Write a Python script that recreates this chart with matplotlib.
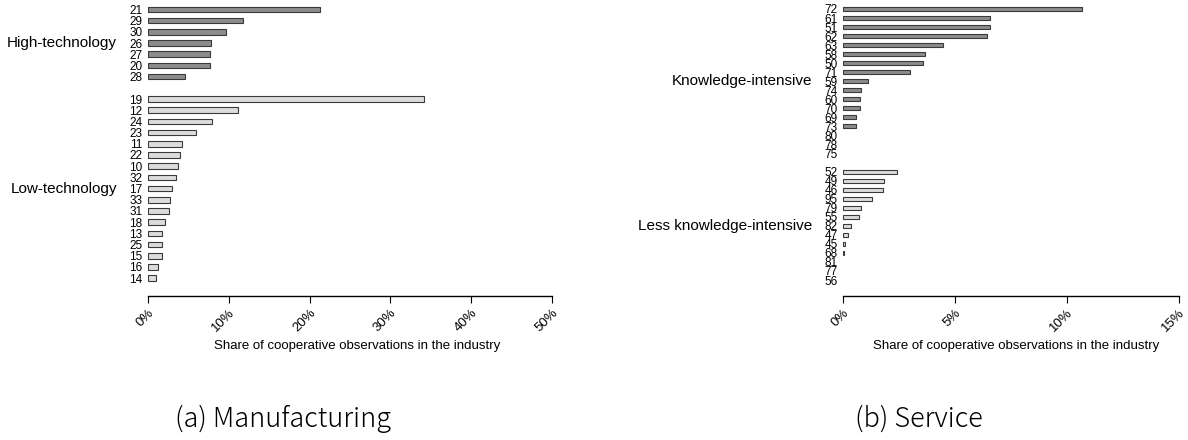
import numpy as np
import matplotlib
matplotlib.use("Agg")
import matplotlib.pyplot as plt
import matplotlib.transforms as mtransforms
from matplotlib import font_manager

plt.rcParams['font.family'] = ['Liberation Sans', 'DejaVu Sans']

# Manufacturing: share of cooperative observations (%)
man_high_codes = ['21', '29', '30', '26', '27', '20', '28']
man_high_vals = [21.3, 11.8, 9.7, 7.85, 7.7, 7.7, 4.6]
man_low_codes = ['19', '12', '24', '23', '11', '22', '10', '32', '17',
                 '33', '31', '18', '13', '25', '15', '16', '14']
man_low_vals = [34.1, 11.1, 7.9, 6.0, 4.15, 3.9, 3.75, 3.5, 2.95,
                2.75, 2.55, 2.1, 1.7, 1.7, 1.7, 1.25, 0.95]

# Service
ser_ki_codes = ['72', '61', '51', '62', '63', '58', '50', '71', '59',
                '74', '60', '70', '69', '73', '80', '78', '75']
ser_ki_vals = [10.65, 6.55, 6.55, 6.42, 4.46, 3.65, 3.55, 2.97, 1.12,
               0.79, 0.77, 0.74, 0.58, 0.58, 0.0, 0.0, 0.0]
ser_lki_codes = ['52', '49', '46', '95', '79', '55', '82', '47', '45',
                 '68', '81', '77', '56']
ser_lki_vals = [2.39, 1.81, 1.77, 1.28, 0.79, 0.71, 0.35, 0.24, 0.11,
                0.03, 0.0, 0.0, 0.0]

man_ticks = [0, 10, 20, 30, 40, 50]
ser_ticks = [0, 5, 10, 15]

dark = '#8c8c8c'
light = '#dcdcdc'
edge = '#3a3a3a'

names = {f.name for f in font_manager.fontManager.ttflist}
narrow = 'Liberation Sans Narrow' if 'Liberation Sans Narrow' in names else 'Liberation Sans'

W, H = 1188, 440
fig = plt.figure(figsize=(W / 100, H / 100), dpi=100)


def panel(x0, x1, codes1, vals1, codes2, vals2, group1, group2, ticks,
          ylim, label_x, tick_font, tick_size, bar_h):
    ax = fig.add_axes([x0 / W, (H - 296) / H, (x1 - x0) / W, 291 / H])
    rows1 = np.arange(len(codes1))
    rows2 = np.arange(len(codes2)) + len(codes1) + 1
    lw1 = [0.8 if v > 0 else 0 for v in vals1]
    lw2 = [0.8 if v > 0 else 0 for v in vals2]
    ax.barh(rows1, vals1, height=bar_h, color=dark, edgecolor=edge, linewidth=lw1)
    ax.barh(rows2, vals2, height=bar_h, color=light, edgecolor=edge, linewidth=lw2)
    ax.set_ylim(*ylim)
    ax.set_xlim(ticks[0], ticks[-1])
    ax.set_yticks(np.concatenate([rows1, rows2]))
    ax.set_yticklabels(codes1 + codes2, fontsize=tick_size, family=tick_font)
    ax.tick_params(axis='y', length=0, pad=4)
    ax.set_xticks(ticks)
    ax.set_xticklabels([f'{t}%' for t in ticks], fontsize=9.5, rotation=45,
                       ha='right', va='top', rotation_mode='anchor')
    ax.tick_params(axis='x', length=5, width=0.8, pad=3)
    for s in ['left', 'right', 'top']:
        ax.spines[s].set_visible(False)
    ax.spines['bottom'].set_bounds(ticks[0], ticks[-1])
    ax.spines['bottom'].set_linewidth(1.0)
    ax.patch.set_visible(False)
    tr = mtransforms.blended_transform_factory(fig.transFigure, ax.transData)
    ax.text(label_x / W, rows1.mean(), group1, transform=tr, ha='right',
            va='center', fontsize=11)
    ax.text(label_x / W, rows2.mean(), group2, transform=tr, ha='right',
            va='center', fontsize=11)
    return ax


panel(148, 552, man_high_codes, man_high_vals, man_low_codes, man_low_vals,
      'High-technology', 'Low-technology', man_ticks, (25.6, -0.4), 117,
      'Liberation Sans', 8.5, 0.5)
panel(843, 1179, ser_ki_codes, ser_ki_vals, ser_lki_codes, ser_lki_vals,
      'Knowledge-intensive', 'Less knowledge-intensive', ser_ticks,
      (31.77, -0.44), 812, narrow, 8.5, 0.45)

fig.text(357 / W, 1 - 346 / H, 'Share of cooperative observations in the industry',
         ha='center', va='center', fontsize=9.5)
fig.text(1016 / W, 1 - 346 / H, 'Share of cooperative observations in the industry',
         ha='center', va='center', fontsize=9.5)

cap_font = ['Noto Sans CJK JP', 'DejaVu Sans']
fig.text(283 / W, 1 - 419 / H, '(a) Manufacturing', ha='center', va='center',
         fontsize=19.5, family=cap_font, weight='light', color='black')
fig.text(919 / W, 1 - 419 / H, '(b) Service', ha='center', va='center',
         fontsize=19.5, family=cap_font, weight='light', color='black')

fig.savefig('out.png', dpi=100)
